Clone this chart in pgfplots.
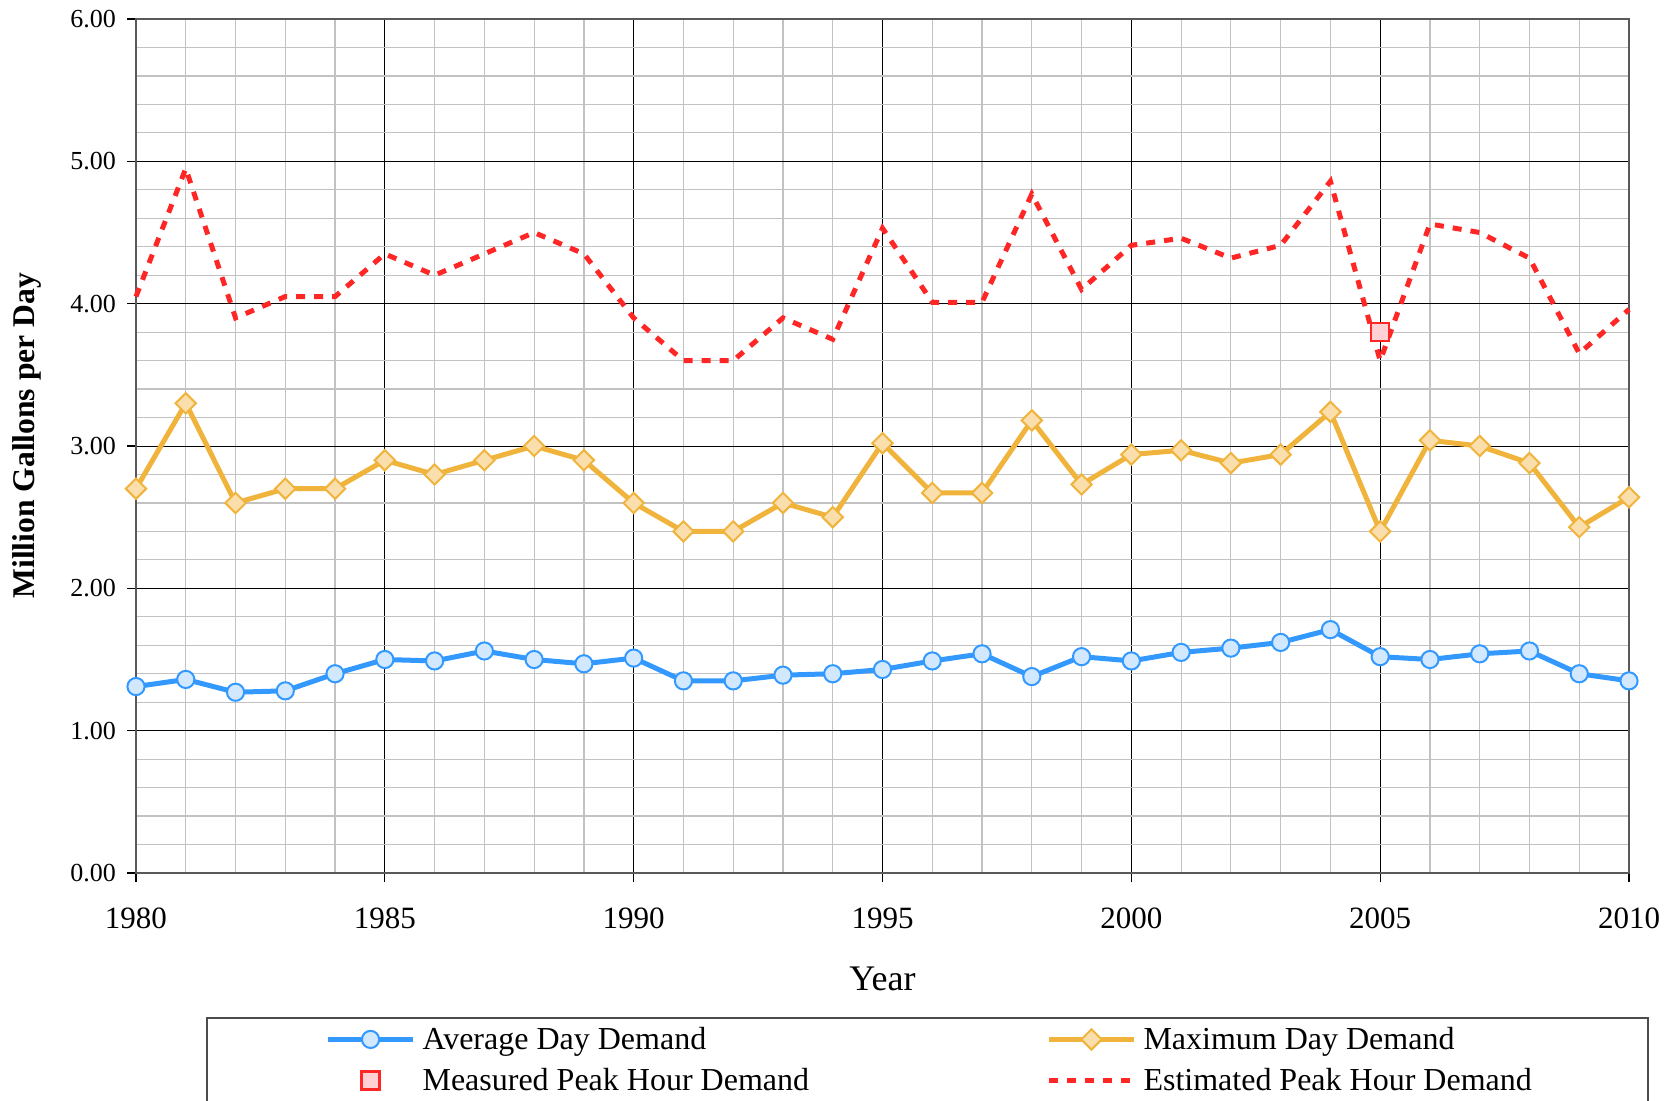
\documentclass[border=0pt]{standalone}
\usepackage{fontspec}
\setmainfont{Liberation Serif}
\usepackage{pgfplots}
\pgfplotsset{compat=1.18}

\definecolor{avgblue}{RGB}{51,153,255}
\definecolor{avgfill}{RGB}{210,232,255}
\definecolor{maxorange}{RGB}{240,180,60}
\definecolor{maxfill}{RGB}{250,222,172}
\definecolor{peakred}{RGB}{255,38,38}
\definecolor{peakfill}{RGB}{255,208,212}

\pgfplotsset{
  legimg/.style={legend image code/.code={%
    \draw[mark repeat=2,mark phase=2,##1] plot coordinates {(0pt,0pt) (21.25pt,0pt) (42.5pt,0pt)};}},
}

\begin{document}
\begin{tikzpicture}
% inner minor ticks on the year axis
\begin{axis}[
  scale only axis, width=746.5pt, height=427pt,
  xmin=1980, xmax=2010, ymin=0, ymax=6,
  axis x line*=bottom, hide y axis,
  axis line style={draw=none},
  xtick={1981,1982,1983,1984,1986,1987,1988,1989,1991,1992,1993,1994,
    1996,1997,1998,1999,2001,2002,2003,2004,2006,2007,2008,2009},
  xticklabels={},
  tick align=inside, major tick length=7pt,
  major tick style={black, line width=0.6pt},
]
\end{axis}
\begin{axis}[
  scale only axis, width=746.5pt, height=427pt,
  xmin=1980, xmax=2010, ymin=0, ymax=6,
  xtick={1980,1985,...,2010}, minor x tick num=4,
  ytick={0,1,...,6}, minor y tick num=4,
  grid=both,
  major grid style={black, line width=0.5pt},
  minor grid style={black!24, line width=0.6pt},
  tick pos=left, tick align=outside,
  major tick length=4.5pt,
  major tick style={black, line width=0.6pt},
  minor tick style={draw=none},
  axis line style={black!65, line width=1.2pt},
  clip=false,
  /pgf/number format/assume math mode=true,
  x tick label style={font=\fontsize{15.5}{18}\selectfont, /pgf/number format/1000 sep={}, yshift=-9.6pt},
  y tick label style={font=\fontsize{13}{15}\selectfont, /pgf/number format/fixed, /pgf/number format/fixed zerofill, /pgf/number format/precision=2, xshift=-2pt},
  xlabel={Year},
  every axis x label/.style={at={(axis description cs:0.5,-0.124)}, anchor=center, font=\fontsize{18}{21}\selectfont},
  ylabel={\textbf{Million Gallons per Day}},
  every axis y label/.style={at={(axis description cs:-0.073,0.512)}, anchor=center, rotate=90, font=\fontsize{15.8}{18}\selectfont},
  legend columns=2,
  legend cell align=left,
  legend style={draw=none, fill=none, at={(axis description cs:0.1267,-0.219)}, anchor=west,
    inner sep=0pt, font=\fontsize{16}{19}\selectfont,
    nodes={inner xsep=3.5pt, inner ysep=1pt},
    row sep=6pt,
    /tikz/every even column/.append style={column sep=115.2pt}},
]

\addplot[color=avgblue, line width=2.5pt, mark=*, mark size=4.3pt,
  mark options={fill=avgfill, draw=avgblue, line width=1pt, solid}, legimg] coordinates {
  (1980,1.31) (1981,1.36) (1982,1.27) (1983,1.28) (1984,1.40) (1985,1.50)
  (1986,1.49) (1987,1.56) (1988,1.50) (1989,1.47) (1990,1.51) (1991,1.35)
  (1992,1.35) (1993,1.39) (1994,1.40) (1995,1.43) (1996,1.49) (1997,1.54)
  (1998,1.38) (1999,1.52) (2000,1.49) (2001,1.55) (2002,1.58) (2003,1.62)
  (2004,1.71) (2005,1.52) (2006,1.50) (2007,1.54) (2008,1.56) (2009,1.40)
  (2010,1.35)
};
\addlegendentry{Average Day Demand}

\addplot[color=maxorange, line width=2.5pt, mark=square*, mark size=3.6pt,
  mark options={fill=maxfill, draw=maxorange, line width=1pt, rotate=45, solid}, legimg] coordinates {
  (1980,2.70) (1981,3.30) (1982,2.60) (1983,2.70) (1984,2.70) (1985,2.90)
  (1986,2.80) (1987,2.90) (1988,3.00) (1989,2.90) (1990,2.60) (1991,2.40)
  (1992,2.40) (1993,2.60) (1994,2.50) (1995,3.02) (1996,2.67) (1997,2.67)
  (1998,3.18) (1999,2.73) (2000,2.94) (2001,2.97) (2002,2.88) (2003,2.94)
  (2004,3.24) (2005,2.40) (2006,3.04) (2007,3.00) (2008,2.88) (2009,2.43)
  (2010,2.64)
};
\addlegendentry{Maximum Day Demand}

\addplot[only marks, mark=square*, mark size=4.5pt,
  mark options={fill=peakfill, draw=peakred, line width=1.2pt}, legimg] coordinates {
  (2005,3.80)
};
\addlegendentry{Measured Peak Hour Demand}

\addplot[color=peakred, line width=2.5pt, dash pattern=on 4.5pt off 4.5pt, legimg] coordinates {
  (1980,4.05) (1981,4.95) (1982,3.90) (1983,4.05) (1984,4.05) (1985,4.35)
  (1986,4.20) (1987,4.35) (1988,4.50) (1989,4.35) (1990,3.90) (1991,3.60)
  (1992,3.60) (1993,3.90) (1994,3.75) (1995,4.53) (1996,4.01) (1997,4.01)
  (1998,4.77) (1999,4.10) (2000,4.41) (2001,4.46) (2002,4.32) (2003,4.41)
  (2004,4.86) (2005,3.60) (2006,4.56) (2007,4.50) (2008,4.32) (2009,3.65)
  (2010,3.96)
};
\addlegendentry{Estimated Peak Hour Demand}

\end{axis}
\draw[black!70, line width=0.8pt] (35.5pt,-72.5pt) rectangle (756pt,-116pt);
\pgfresetboundingbox
\useasboundingbox (-68pt,-113.5pt) rectangle (769.5pt,436.5pt);
\end{tikzpicture}
\end{document}
